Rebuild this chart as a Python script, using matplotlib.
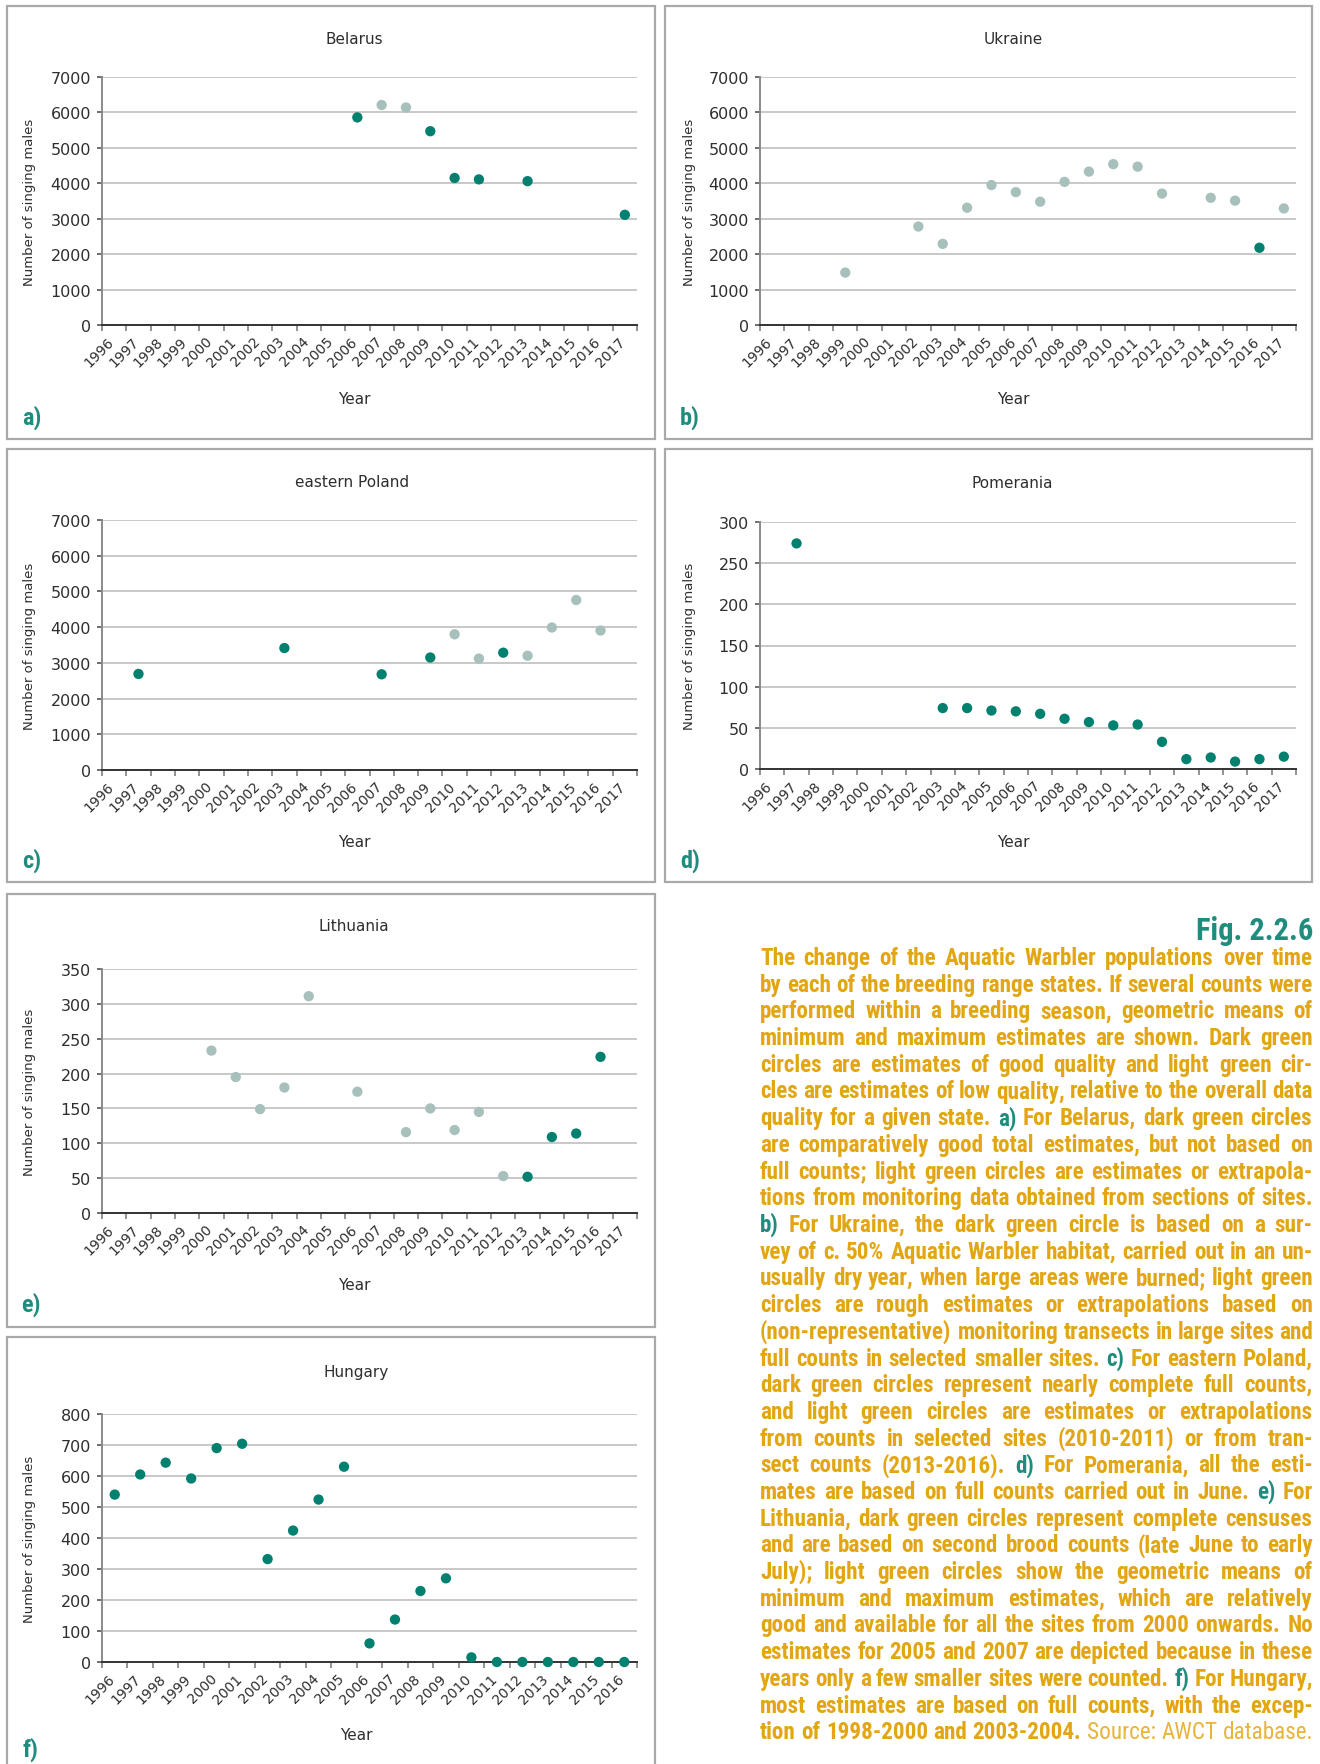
import matplotlib
matplotlib.use('Agg')
import numpy as np
import matplotlib.pyplot as plt
import matplotlib.transforms as mtransforms
from matplotlib import font_manager
from matplotlib.patches import Rectangle

# --- data ---
years_22 = ['1996', '1997', '1998', '1999', '2000', '2001', '2002', '2003', '2004', '2005', '2006',
            '2007', '2008', '2009', '2010', '2011', '2012', '2013', '2014', '2015', '2016', '2017']
years_21 = ['1996', '1997', '1998', '1999', '2000', '2001', '2002', '2003', '2004', '2005', '2006',
            '2007', '2008', '2009', '2010', '2011', '2012', '2013', '2014', '2015', '2016']

belarus_years = [2006, 2007, 2008, 2009, 2010, 2011, 2013, 2017]
belarus_values = [5860, 6210, 6140, 5470, 4150, 4110, 4060, 3110]
belarus_quality = ['good', 'low', 'low', 'good', 'good', 'good', 'good', 'good']

ukraine_years = [1999, 2002, 2003, 2004, 2005, 2006, 2007, 2008, 2009, 2010, 2011, 2012, 2014, 2015, 2016, 2017]
ukraine_values = [1480, 2780, 2290, 3310, 3950, 3750, 3480, 4040, 4330, 4540, 4470, 3710, 3590, 3510, 2180, 3290]
ukraine_quality = ['low'] * 14 + ['good', 'low']

poland_years = [1997, 2003, 2007, 2009, 2010, 2011, 2012, 2013, 2014, 2015, 2016]
poland_values = [2690, 3415, 2680, 3150, 3800, 3120, 3285, 3200, 3990, 4760, 3905]
poland_quality = ['good', 'good', 'good', 'good', 'low', 'low', 'good', 'low', 'low', 'low', 'low']

pomerania_years = [1997, 2003, 2004, 2005, 2006, 2007, 2008, 2009, 2010, 2011, 2012, 2013, 2014, 2015, 2016, 2017]
pomerania_values = [274, 74, 74, 71, 70, 67, 61, 57, 53, 54, 33, 12, 14, 9, 12, 15]
pomerania_quality = ['good'] * 16

lithuania_years = [2000, 2001, 2002, 2003, 2004, 2006, 2008, 2009, 2010, 2011, 2012, 2013, 2014, 2015, 2016]
lithuania_values = [233, 195, 149, 180, 311, 174, 116, 150, 119, 145, 53, 52, 109, 114, 224]
lithuania_quality = ['low'] * 11 + ['good'] * 4

hungary_years = [1996, 1997, 1998, 1999, 2000, 2001, 2002, 2003, 2004, 2005, 2006,
                 2007, 2008, 2009, 2010, 2011, 2012, 2013, 2014, 2015, 2016]
hungary_values = [540, 605, 643, 592, 690, 704, 332, 424, 524, 630, 60, 137, 229, 270, 15, 0, 0, 0, 0, 0, 0]
hungary_quality = ['good'] * 21

# --- styling ---
W, H = 1320, 1765
DARK = '#00806E'
LIGHT = '#A7C0BC'
TEAL = '#1F8C7D'
GOLD = '#E2A613'
SOURCE = '#E8B43A'
BORDER = '#A9A9A9'
GRID = '#C4C4C4'
TXT = '#2E2E2E'


def pick_narrow_font():
    # the caption uses a condensed bold face; take the closest installed one
    fl = font_manager.fontManager.ttflist
    names = {f.name for f in fl}
    for nm in ['Liberation Sans Narrow', 'Roboto Condensed', 'Open Sans Condensed',
               'DejaVu Sans Condensed', 'Noto Sans Condensed']:
        if nm in names:
            return dict(family=nm)
    for nm in ['DejaVu Sans', 'Noto Sans', 'Roboto', 'Open Sans']:
        for f in fl:
            if f.name == nm and 'condensed' in str(f.stretch):
                return dict(family=nm, fontstretch='condensed')
    return dict(family='DejaVu Sans')


NARROW = pick_narrow_font()
plt.rcParams['font.family'] = ['DejaVu Sans']

fig = plt.figure(figsize=(W / 100, H / 100), dpi=100)
fig.patch.set_facecolor('white')


def fx(x):
    return x / W


def fy(y):
    return 1 - y / H


panels = [
    dict(title='Belarus', cats=years_22, yrs=belarus_years, vals=belarus_values, q=belarus_quality,
         ymax=7000, step=1000, letter='a)',
         box=(7, 7, 655, 440), ax=(102, 78, 637, 326), t=(354, 39), yr=(354, 400), yl=(30, 202), lt=(32, 418)),
    dict(title='Ukraine', cats=years_22, yrs=ukraine_years, vals=ukraine_values, q=ukraine_quality,
         ymax=7000, step=1000, letter='b)',
         box=(665, 7, 1312, 440), ax=(760, 78, 1296, 326), t=(1013, 39), yr=(1013, 400), yl=(689, 202), lt=(690, 418)),
    dict(title='eastern Poland', cats=years_22, yrs=poland_years, vals=poland_values, q=poland_quality,
         ymax=7000, step=1000, letter='c)',
         box=(7, 450, 655, 883), ax=(102, 521, 637, 771), t=(352, 483), yr=(354, 843), yl=(30, 646), lt=(32, 861)),
    dict(title='Pomerania', cats=years_22, yrs=pomerania_years, vals=pomerania_values, q=pomerania_quality,
         ymax=300, step=50, letter='d)',
         box=(665, 450, 1312, 883), ax=(760, 523, 1296, 770), t=(1012, 484), yr=(1013, 843), yl=(689, 646), lt=(690, 861)),
    dict(title='Lithuania', cats=years_22, yrs=lithuania_years, vals=lithuania_values, q=lithuania_quality,
         ymax=350, step=50, letter='e)',
         box=(7, 895, 655, 1328), ax=(102, 970, 637, 1214), t=(354, 927), yr=(354, 1286), yl=(30, 1092), lt=(31, 1305)),
    dict(title='Hungary', cats=years_21, yrs=hungary_years, vals=hungary_values, q=hungary_quality,
         ymax=800, step=100, letter='f)',
         box=(7, 1338, 655, 1800), ax=(102, 1415, 637, 1663), t=(356, 1373), yr=(356, 1736), yl=(30, 1539), lt=(30, 1750)),
]

for p in panels:
    # panel frame
    x0, y0, x1, y1 = p['box']
    fig.patches.append(Rectangle((fx(x0), fy(y1)), fx(x1 - x0), (y1 - y0) / H, transform=fig.transFigure,
                                 fill=False, edgecolor=BORDER, linewidth=1.6, zorder=0))

    l, t, r, b = p['ax']
    ax = fig.add_axes([fx(l), fy(b), fx(r - l), (b - t) / H])
    n = len(p['cats'])
    first = int(p['cats'][0])
    xpos = [y - first for y in p['yrs']]
    colors = [DARK if q == 'good' else LIGHT for q in p['q']]
    ax.scatter(xpos, p['vals'], s=55, c=colors, linewidths=0, zorder=3, clip_on=False)

    ax.set_xlim(-0.5, n - 0.5)
    ax.set_ylim(0, p['ymax'])
    ax.set_yticks(np.arange(0, p['ymax'] + 1, p['step']))
    ax.set_xticks(range(n))
    ax.set_xticklabels(p['cats'], rotation=45, ha='right', va='center', rotation_mode='anchor',
                       fontsize=10, color=TXT)
    ax.set_xticks(np.arange(n + 1) - 0.5, minor=True)
    ax.tick_params(axis='x', which='major', length=0, pad=10)
    ax.tick_params(axis='x', which='minor', length=4.5, width=1.3, color='#8A8A8A', direction='out')
    ax.tick_params(axis='y', length=3.5, width=1.2, color='#555555', pad=4.5, labelsize=11.5, labelcolor=TXT)
    offset = mtransforms.ScaledTranslation(-2 / 100, 0, fig.dpi_scale_trans)
    for lab in ax.get_xticklabels():
        lab.set_transform(lab.get_transform() + offset)

    ax.yaxis.grid(True, color=GRID, linewidth=1.3)
    ax.set_axisbelow(True)
    for s in ['top', 'right']:
        ax.spines[s].set_visible(False)
    ax.spines['left'].set_color('#8A8A8A')
    ax.spines['left'].set_linewidth(1.4)
    ax.spines['bottom'].set_color('#333333')
    ax.spines['bottom'].set_linewidth(1.4)
    ax.set_facecolor('white')

    fig.text(fx(p['t'][0]), fy(p['t'][1]), p['title'], ha='center', va='center', fontsize=11, color=TXT)
    fig.text(fx(p['yr'][0]), fy(p['yr'][1]), 'Year', ha='center', va='center', fontsize=11, color=TXT)
    fig.text(fx(p['yl'][0]), fy(p['yl'][1]), 'Number of singing males', ha='center', va='center',
             rotation=90, fontsize=9.5, color=TXT)
    fig.text(fx(p['lt'][0]), fy(p['lt'][1]), p['letter'], ha='center', va='center', fontsize=17.5,
             fontweight='bold', color=TEAL, **NARROW)

# --- caption block, justified line by line ---
fig.text(fx(1313), fy(931), 'Fig. 2.2.6', ha='right', va='center', fontsize=22, fontweight='bold',
         color=TEAL, **NARROW)

caption_lines = [
    "The change of the Aquatic Warbler populations over time",
    "by each of the breeding range states. If several counts were",
    "performed within a breeding season, geometric means of",
    "minimum and maximum estimates are shown. Dark green",
    "circles are estimates of good quality and light green cir-",
    "cles are estimates of low quality, relative to the overall data",
    "quality for a given state. {a)} For Belarus, dark green circles",
    "are comparatively good total estimates, but not based on",
    "full counts; light green circles are estimates or extrapola-",
    "tions from monitoring data obtained from sections of sites.",
    "{b)} For Ukraine, the dark green circle is based on a sur-",
    "vey of c. 50% Aquatic Warbler habitat, carried out in an un-",
    "usually dry year, when large areas were burned; light green",
    "circles are rough estimates or extrapolations based on",
    "(non-representative) monitoring transects in large sites and",
    "full counts in selected smaller sites. {c)} For eastern Poland,",
    "dark green circles represent nearly complete full counts,",
    "and light green circles are estimates or extrapolations",
    "from counts in selected sites (2010-2011) or from tran-",
    "sect counts (2013-2016). {d)} For Pomerania, all the esti-",
    "mates are based on full counts carried out in June. {e)} For",
    "Lithuania, dark green circles represent complete censuses",
    "and are based on second brood counts (late June to early",
    "July); light green circles show the geometric means of",
    "minimum and maximum estimates, which are relatively",
    "good and available for all the sites from 2000 onwards. No",
    "estimates for 2005 and 2007 are depicted because in these",
    "years only a few smaller sites were counted. {f)} For Hungary,",
    "most estimates are based on full counts, with the excep-",
    "tion of 1998-2000 and 2003-2004. [Source:] [AWCT] [database.]",
]

CAP_X0, CAP_X1 = 760, 1313
CAP_Y0, CAP_PITCH = 965, 26.7
cap_size = 14.5
renderer = fig.canvas.get_renderer()


def word_style(w):
    if w.startswith('{'):
        return w[1:-1], dict(color=TEAL, fontweight='bold')
    if w.startswith('['):
        return w[1:-1], dict(color=SOURCE, fontweight='normal')
    return w, dict(color=GOLD, fontweight='bold')


# measure natural widths first
measured = []
for line in caption_lines:
    items = []
    for w in line.split(' '):
        txt, st = word_style(w)
        tmp = fig.text(0, 0, txt, fontsize=cap_size, **NARROW, **st)
        wpx = tmp.get_window_extent(renderer).width
        tmp.remove()
        items.append((txt, st, wpx))
    measured.append(items)

# grow/shrink so the tightest line just fits with small word gaps
avail = CAP_X1 - CAP_X0
scale = 10.0
for items in measured:
    need_words = sum(i[2] for i in items)
    scale = min(scale, (avail - 4.5 * (len(items) - 1)) / need_words)
scale = min(scale, 1.25)

for k, items in enumerate(measured):
    widths = [i[2] * scale for i in items]
    gap = (avail - sum(widths)) / max(len(items) - 1, 1)
    x = CAP_X0
    y = CAP_Y0 + k * CAP_PITCH
    for (txt, st, _), wpx in zip(items, widths):
        fig.text(fx(x), fy(y), txt, fontsize=cap_size * scale, ha='left', va='baseline', **NARROW, **st)
        x += wpx + gap

fig.savefig('out.png', dpi=100, facecolor='white')
